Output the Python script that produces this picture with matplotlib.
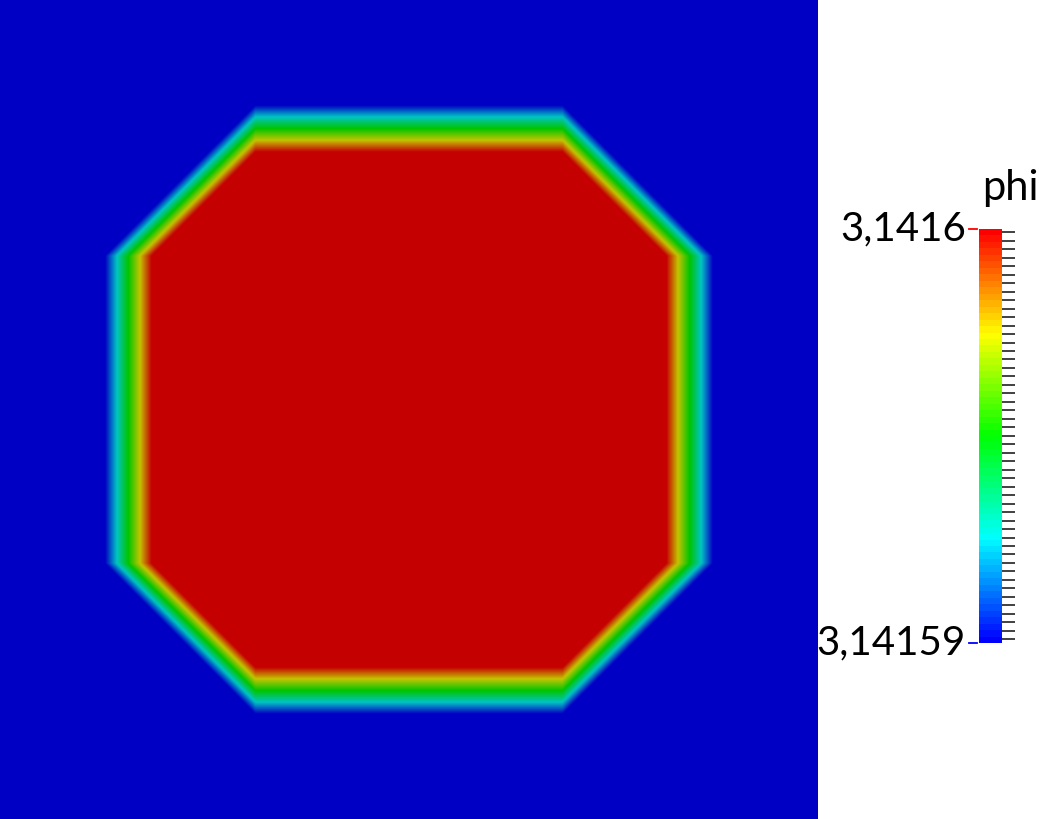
import numpy as np
import matplotlib
matplotlib.use("Agg")
import matplotlib.pyplot as plt
from matplotlib.colors import LinearSegmentedColormap, Normalize
from matplotlib.cm import ScalarMappable
from matplotlib.ticker import NullFormatter

# colour range of phi and its labels (comma decimal as in the original)
phi_range = [3.14159, 3.1416]
tick_labels = ["3,14159", "3,1416"]
bar_title = "phi"

# octagon in unit domain coordinates: center, inner (max value) and outer (min value)
# half widths, and the corner cut of the octagon norm
center = [0.5, 0.5]
half_inner = 0.315
half_outer = 0.372
corner_cut = 0.188

rainbow = ["#0000ff", "#00ffff", "#00ff00", "#ffff00", "#ff0000"]
shade = 0.77


def make_field(n=820):
    xs = np.linspace(0, 1, n)
    X, Y = np.meshgrid(xs, xs)
    dx = np.abs(X - center[0])
    dy = np.abs(Y - center[1])
    g = np.maximum(np.maximum(dx, dy), dx + dy - corner_cut)
    t = np.clip((half_outer - g) / (half_outer - half_inner), 0, 1)
    return phi_range[0] + t * (phi_range[1] - phi_range[0])


def main():
    plt.rcParams["font.family"] = ["Lato", "DejaVu Sans"]
    fig = plt.figure(figsize=(10.39, 8.19), dpi=100)

    dark = LinearSegmentedColormap.from_list(
        "rainbow_dark", [tuple(c * shade for c in matplotlib.colors.to_rgb(h)) for h in rainbow], N=256)
    banded = LinearSegmentedColormap.from_list("rainbow64", rainbow, N=64)
    norm = Normalize(vmin=phi_range[0], vmax=phi_range[1])

    ax = fig.add_axes([0, 0, 818 / 1039, 1])
    ax.imshow(make_field(), cmap=dark, norm=norm, origin="lower",
              extent=[0, 1, 0, 1], aspect="auto", interpolation="bilinear")
    ax.set_axis_off()

    cax = fig.add_axes([979 / 1039, (819 - 643) / 819, 23 / 1039, 414 / 819])
    cb = fig.colorbar(ScalarMappable(norm=norm, cmap=banded), cax=cax)
    cb.outline.set_visible(False)
    span = phi_range[1] - phi_range[0]
    ticks = np.linspace(phi_range[0] + 0.009 * span, phi_range[0] + 0.992 * span, 49)
    cax.yaxis.set_ticks(ticks)
    cax.yaxis.set_minor_locator(matplotlib.ticker.NullLocator())
    cax.yaxis.set_major_formatter(NullFormatter())
    cax.yaxis.set_ticks_position("right")
    cax.tick_params(axis="y", direction="out", length=9.5, width=1.3, color="#333333")

    # end labels with the small coloured dashes on the left side
    for frac, lab, col in [(0, tick_labels[0], "#0000ff"), (1, tick_labels[1], "#ff0000")]:
        cax.plot([-0.435, -0.087], [frac, frac], color=col, lw=1.3,
                 transform=cax.transAxes, clip_on=False)
        cax.text(-0.57, frac, lab, transform=cax.transAxes, ha="right", va="center",
                 fontsize=29, color="black")

    fig.text(982 / 1039, (819 - 200) / 819, bar_title, ha="left", va="baseline",
             fontsize=30, color="black")

    fig.savefig("out.png", dpi=100)


if __name__ == "__main__":
    main()
